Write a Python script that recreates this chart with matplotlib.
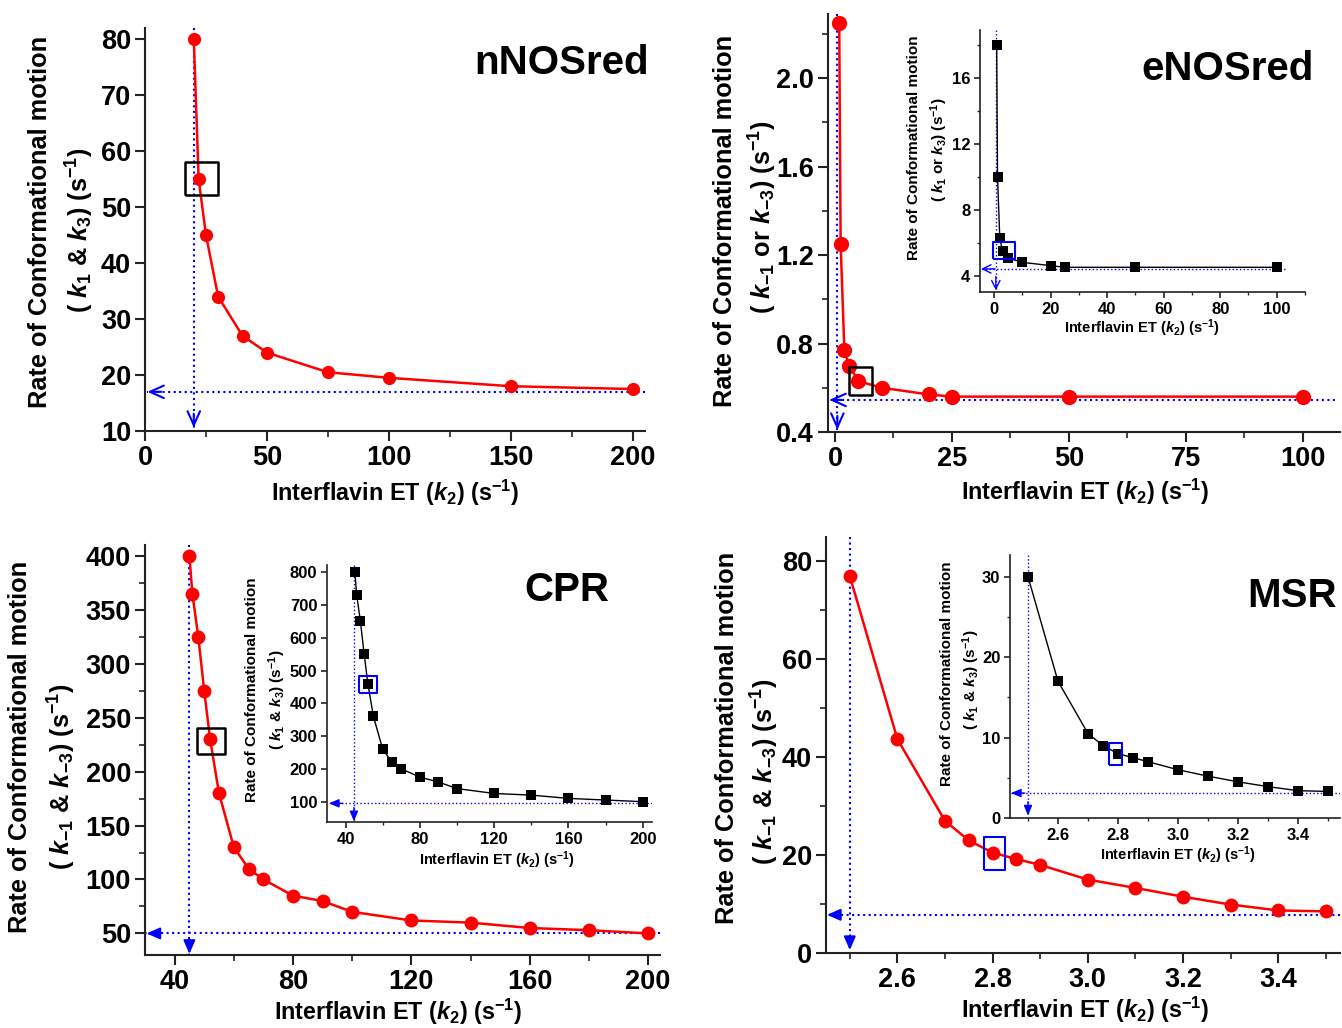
import matplotlib
matplotlib.use('Agg')
import matplotlib.pyplot as plt
from matplotlib.ticker import MultipleLocator

plt.rcParams['font.family'] = ['Liberation Sans', 'DejaVu Sans']
plt.rcParams['font.weight'] = 'bold'
plt.rcParams['mathtext.fontset'] = 'custom'
plt.rcParams['mathtext.rm'] = 'Liberation Sans:bold'
plt.rcParams['mathtext.it'] = 'Liberation Sans:italic:bold'
plt.rcParams['mathtext.bf'] = 'Liberation Sans:bold'

# ---- data ----
nnos_k2 = [20, 22, 25, 30, 40, 50, 75, 100, 150, 200]
nnos_k = [80, 55, 45, 34, 27, 24, 20.5, 19.5, 18, 17.5]

enos_k2 = [0.9, 1.2, 2, 3, 5, 10, 20, 25, 50, 100]
enos_kminus = [2.25, 1.25, 0.77, 0.70, 0.63, 0.60, 0.57, 0.56, 0.56, 0.56]
enos_kplus = [18, 10, 6.25, 5.5, 5.05, 4.8, 4.6, 4.5, 4.5, 4.5]

cpr_k2 = [45, 46, 48, 50, 52, 55, 60, 65, 70, 80, 90, 100, 120, 140, 160, 180, 200]
cpr_kminus = [400, 365, 325, 275, 230, 180, 130, 110, 100, 85, 80, 70, 62, 60, 55, 53, 50]
cpr_kplus = [800, 730, 650, 550, 460, 360, 260, 220, 200, 175, 160, 140, 125, 120, 110, 105, 100]

msr_k2 = [2.5, 2.6, 2.7, 2.75, 2.8, 2.85, 2.9, 3.0, 3.1, 3.2, 3.3, 3.4, 3.5]
msr_kminus = [77, 43.7, 27, 23, 20.5, 19.2, 18, 15, 13.3, 11.5, 9.9, 8.7, 8.5]
msr_kplus = [30, 17, 10.5, 9, 8, 7.5, 7, 6, 5.2, 4.5, 3.9, 3.4, 3.3]

# limit guide lines (k2 limit, rate limit)
nnos_lim = (20, 17)
enos_lim, enos_inset_lim = (0.5, 0.545), (0.6, 4.4)
cpr_lim, cpr_inset_lim = (45, 50), (44.5, 95)
msr_lim, msr_inset_lim = (2.5, 7.8), (2.5, 3.1)

W, H = 1342, 1028
fig = plt.figure(figsize=(W / 100, H / 100), dpi=100)


def px_axes(l, t, r, b):
    return fig.add_axes([l / W, 1 - b / H, (r - l) / W, (b - t) / H])


def px_text(x, y, s, **kw):
    return fig.text(x / W, 1 - y / H, s, ha='center', va='center', **kw)


def style(ax, xlim, ylim, xmaj, xmin, ymaj, ymin, fs, lw=1.5, tl=7):
    ax.set_xlim(*xlim)
    ax.set_ylim(*ylim)
    ax.xaxis.set_major_locator(MultipleLocator(xmaj))
    ax.yaxis.set_major_locator(MultipleLocator(ymaj))
    if xmin:
        ax.xaxis.set_minor_locator(MultipleLocator(xmin))
    if ymin:
        ax.yaxis.set_minor_locator(MultipleLocator(ymin))
    for s in ['top', 'right']:
        ax.spines[s].set_visible(False)
    for s in ['left', 'bottom']:
        ax.spines[s].set_linewidth(lw)
        ax.spines[s].set_color('#222222')
    ax.tick_params(which='major', direction='out', length=tl, width=lw,
                   labelsize=fs, color='#222222', pad=3)
    ax.tick_params(which='minor', direction='out', length=tl * 0.6, width=lw * 0.8,
                   color='#222222')
    ax.patch.set_alpha(0)


def guides(ax, lim, top, right, vtip, htip, lw, head, filled):
    x, y = lim
    ax.plot([x, x], [top, vtip], ls=':', color='#0000ff', lw=lw, zorder=1)
    ax.plot([right, htip], [y, y], ls=':', color='#0000ff', lw=lw, zorder=1)
    hl, hw = head
    style_str = ('-|>' if filled else '->') + f',head_length={hl},head_width={hw}'
    props = dict(arrowstyle=style_str, color='#0000ff', lw=lw, shrinkA=0, shrinkB=0,
                 mutation_scale=10)
    ax.annotate('', xy=(x, vtip), xytext=(0, 10), textcoords='offset points',
                arrowprops=props, annotation_clip=False)
    ax.annotate('', xy=(htip, y), xytext=(10, 0), textcoords='offset points',
                arrowprops=props, annotation_clip=False)


def box(ax, x, y, w, h, color, lw):
    # hollow rectangular marker, w x h in pixels
    m = max(w, h)
    verts = [(-w / m, -h / m), (w / m, -h / m), (w / m, h / m), (-w / m, h / m), (-w / m, -h / m)]
    ax.plot([x], [y], marker=verts, markersize=m * 0.72, markerfacecolor='none',
            markeredgecolor=color, markeredgewidth=lw, ls='none', zorder=5)


def red(ax, x, y, ms):
    ax.plot(x, y, '-o', color='#ff0000', lw=1.8, ms=ms, markeredgewidth=0, zorder=3)


def black(ax, x, y, ms=6.5):
    ax.plot(x, y, '-s', color='black', lw=1.0, ms=ms, markeredgewidth=0, zorder=3)


def ylab(x1, y1, x2, y2, line2, fs):
    px_text(x1, y1, 'Rate of Conformational motion', rotation=90, fontsize=fs)
    px_text(x2, y2, line2, rotation=90, fontsize=fs)


def xlab(x, y, fs):
    px_text(x, y, 'Interflavin ET ($k_2$) (s$^{-1}$)', fontsize=fs)


MAIN_FS, TICK_FS, XL_FS = 18.3, 19.5, 16.8
INS_FS, INS_TICK = 11, 12

# ---------------- nNOSred ----------------
ax = px_axes(145, 28, 645, 431)
style(ax, (0, 205), (10, 82), 50, 25, 10, None, TICK_FS)
guides(ax, nnos_lim, 82, 205, 10.6, 1.0, 1.5, (1.0, 0.45), False)
red(ax, nnos_k2, nnos_k, 9.5)
box(ax, 23, 55.2, 33, 33, 'black', 1.8)
ylab(40, 222, 80, 230, '( $k_1$ & $k_3$) (s$^{-1}$)', MAIN_FS)
xlab(395, 493, XL_FS)
px_text(562, 63, 'nNOSred', fontsize=29)

# ---------------- eNOSred ----------------
ax = px_axes(828, 14, 1340, 432)
style(ax, (-1.5, 108), (0.4, 2.29), 25, 12.5, 0.4, 0.2, TICK_FS)
guides(ax, enos_lim, 2.29, 107, 0.41, -1.2, 1.5, (1.0, 0.45), False)
red(ax, enos_k2, enos_kminus, 11)
box(ax, 5.4, 0.631, 23, 28, 'black', 1.8)
ylab(725, 221, 763, 217, '( $k_{-1}$ or $k_{-3}$) (s$^{-1}$)', MAIN_FS)
xlab(1085, 492, XL_FS)

ins = px_axes(980, 30, 1305, 292)
style(ins, (-5, 110), (3, 18.9), 20, 10, 4, 2, INS_TICK, lw=1.2, tl=4)
guides(ins, enos_inset_lim, 18.9, 103, 3.1, -4.6, 1.0, (0.6, 0.3), False)
black(ins, enos_k2, enos_kplus)
box(ins, 3.5, 5.52, 22, 17, '#0000ff', 1.5)
ylab(914, 148, 939, 150, '( $k_1$ or $k_3$) (s$^{-1}$)', INS_FS)
xlab(1142, 328, INS_FS - 0.5)
px_text(1228, 69, 'eNOSred', fontsize=29, zorder=10)

# ---------------- CPR ----------------
ax = px_axes(145, 545, 660, 955)
style(ax, (30, 204), (30, 410), 40, 20, 50, 25, TICK_FS)
guides(ax, cpr_lim, 410, 204, 31, 30.5, 1.5, (0.8, 0.35), True)
red(ax, cpr_k2, cpr_kminus, 10)
box(ax, 52.3, 228, 28, 26, 'black', 1.8)
ylab(20, 747, 62, 777, '( $k_{-1}$ & $k_{-3}$) (s$^{-1}$)', MAIN_FS)
xlab(398, 1012, XL_FS)

ins = px_axes(327, 565, 652, 822)
style(ins, (30, 205), (38, 822), 40, 20, 100, None, INS_TICK, lw=1.2, tl=4)
guides(ins, cpr_inset_lim, 822, 205, 40, 31, 1.0, (0.6, 0.25), True)
black(ins, cpr_k2, cpr_kplus)
box(ins, 52.3, 460, 18, 17, '#0000ff', 1.5)
ylab(252, 690, 277, 700, '( $k_1$ & $k_3$) (s$^{-1}$)', INS_FS)
xlab(497, 860, INS_FS - 0.5)
px_text(567, 590, 'CPR', fontsize=29, zorder=10)

# ---------------- MSR ----------------
ax = px_axes(826, 537, 1340, 953)
style(ax, (2.45, 3.53), (0, 85), 0.2, 0.1, 20, 10, TICK_FS)
guides(ax, msr_lim, 85, 3.53, 0.6, 2.452, 1.5, (0.8, 0.35), True)
red(ax, msr_k2, msr_kminus, 10)
box(ax, 2.803, 20.5, 21, 33, '#0000ff', 1.5)
ylab(727, 738, 765, 772, '( $k_{-1}$ & $k_{-3}$) (s$^{-1}$)', MAIN_FS)
xlab(1085, 1010, XL_FS)

ins = px_axes(1010, 555, 1340, 818)
style(ins, (2.44, 3.54), (0, 32.7), 0.2, 0.1, 10, 5, INS_TICK, lw=1.2, tl=4)
guides(ins, msr_inset_lim, 32.7, 3.54, 0.3, 2.443, 1.0, (0.6, 0.25), True)
black(ins, msr_k2, msr_kplus)
box(ins, 2.79, 8.0, 13, 22, '#0000ff', 1.5)
ylab(947, 674, 971, 680, '( $k_1$ & $k_3$) (s$^{-1}$)', INS_FS)
xlab(1178, 855, INS_FS - 0.5)
px_text(1292, 596, 'MSR', fontsize=29, zorder=10)

fig.savefig('out.png', dpi=100)
